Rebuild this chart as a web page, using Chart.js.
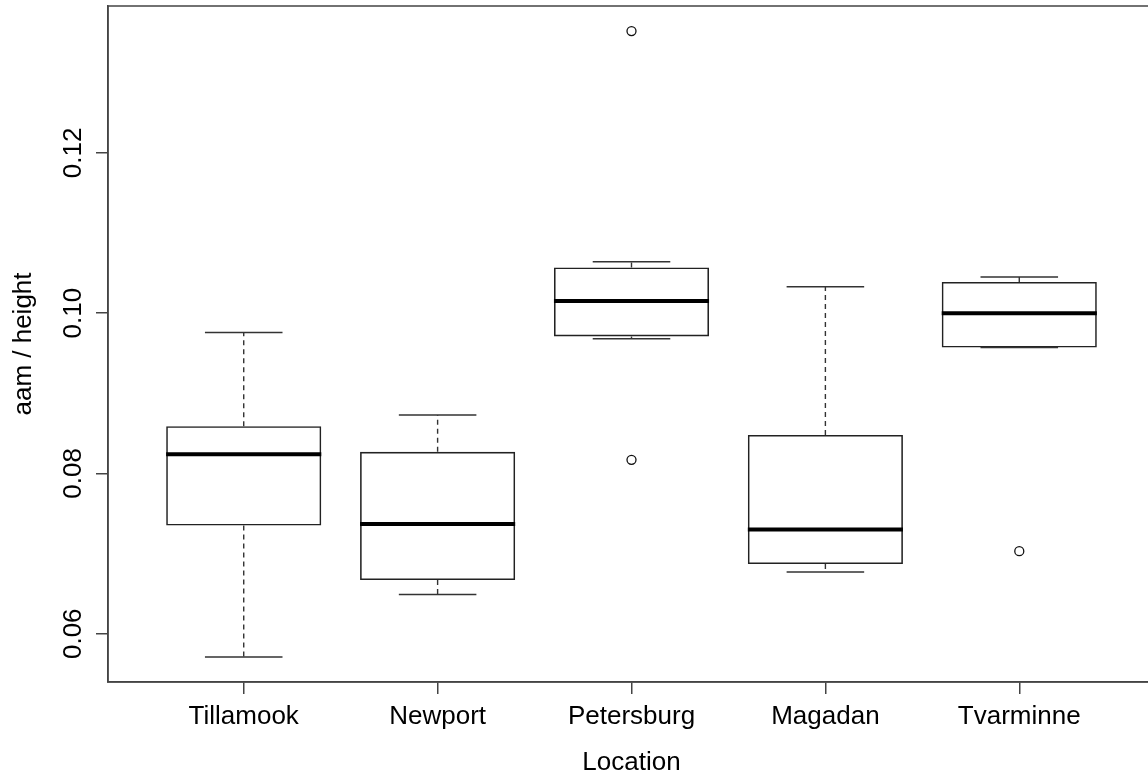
<!DOCTYPE html>
<html>
<head>
<meta charset="utf-8">
<title>aam / height by Location</title>
<script src="https://cdn.jsdelivr.net/npm/chart.js@4.4.1/dist/chart.umd.min.js"></script>
<style>
  html, body { margin: 0; padding: 0; background: #ffffff; overflow: hidden; }
  canvas { display: block; }
</style>
</head>
<body>
<canvas id="chart" width="1170" height="778"></canvas>
<script>
// Box-plot summary per location
const locations   = ['Tillamook', 'Newport', 'Petersburg', 'Magadan', 'Tvarminne'];
const whiskerLow  = [0.0571, 0.0649, 0.0968, 0.0677, 0.0957];
const quartile1   = [0.0735, 0.0667, 0.0971, 0.0687, 0.0957];
const medians     = [0.0824, 0.0737, 0.1015, 0.0730, 0.1000];
const quartile3   = [0.0859, 0.0827, 0.1057, 0.0848, 0.1039];
const whiskerHigh = [0.0976, 0.0873, 0.1064, 0.1033, 0.1045];

// Points beyond the whiskers (index into locations, value)
const outlierGroup  = [2, 2, 4];
const outlierValues = [0.1352, 0.0817, 0.0703];

// Value axis ticks
const yTickValues = [0.06, 0.08, 0.10, 0.12];
const yTickLabels = ['0.06', '0.08', '0.10', '0.12'];

const FONT = '"Liberation Sans", Arial, Helvetica, sans-serif';
const INK = '#000000';
const AXIS = '#444444';

// Axis ranges padded by 4% like a classic boxplot
const allValues = whiskerLow.concat(whiskerHigh, outlierValues);
const dataMin = Math.min(...allValues);
const dataMax = Math.max(...allValues);
const pad = (dataMax - dataMin) * 0.04;
const yMin = dataMin - pad;
const yMax = dataMax + pad;
const xMin = 0.5 - locations.length * 0.04;
const xMax = locations.length + 0.5 + locations.length * 0.04;

// Turn [x0, y0, x1, y1] pieces into one broken polyline
function segments(pieces) {
  const pts = [];
  pieces.forEach(([x0, y0, x1, y1]) => {
    pts.push({ x: x0, y: y0 }, { x: x1, y: y1 }, { x: x1, y: null });
  });
  return pts;
}

const boxes = locations.map((_, i) => ({ x: i + 1, y: [quartile1[i], quartile3[i]] }));

const whiskerLines = segments(locations.flatMap((_, i) => [
  [i + 1, quartile3[i], i + 1, whiskerHigh[i]],
  [i + 1, quartile1[i], i + 1, whiskerLow[i]]
]));

const capLines = segments(locations.flatMap((_, i) => [
  [i + 0.8, whiskerHigh[i], i + 1.2, whiskerHigh[i]],
  [i + 0.8, whiskerLow[i], i + 1.2, whiskerLow[i]]
]));

const medianLines = segments(locations.map((_, i) => [i + 0.6, medians[i], i + 1.4, medians[i]]));

const outlierPoints = outlierValues.map((v, k) => ({ x: outlierGroup[k] + 1, y: v }));

// Closed frame around the plotting region
const framePlugin = {
  id: 'frame',
  afterDatasetsDraw(chart) {
    const { ctx, chartArea: a } = chart;
    ctx.save();
    ctx.strokeStyle = AXIS;
    ctx.lineWidth = 1.5;
    ctx.strokeRect(a.left, a.top, a.right - a.left, a.bottom - a.top);
    ctx.restore();
  }
};

// Value-axis labels written parallel to the axis
const yLabelPlugin = {
  id: 'yLabels',
  afterDraw(chart) {
    const { ctx } = chart;
    const ys = chart.scales.y;
    const baselineX = ys.right - 12 - 15;
    ctx.save();
    ctx.font = '26px ' + FONT;
    ctx.fillStyle = INK;
    ctx.textAlign = 'center';
    ctx.textBaseline = 'alphabetic';
    yTickValues.forEach((v, i) => {
      const py = ys.getPixelForValue(v);
      ctx.save();
      ctx.translate(baselineX, py);
      ctx.rotate(-Math.PI / 2);
      ctx.fillText(yTickLabels[i], 0, 0);
      ctx.restore();
    });
    ctx.restore();
  }
};

new Chart(document.getElementById('chart').getContext('2d'), {
  type: 'scatter',
  data: {
    datasets: [
      {
        type: 'bar',
        data: boxes,
        backgroundColor: 'rgba(0,0,0,0)',
        borderColor: '#222222',
        borderWidth: 1.6,
        borderSkipped: false,
        categoryPercentage: 1,
        barPercentage: 0.8,
        grouped: false,
        inflateAmount: 0,
        order: 5
      },
      {
        type: 'line',
        data: whiskerLines,
        borderColor: '#333333',
        borderWidth: 1.4,
        borderDash: [5, 4],
        pointRadius: 0,
        fill: false,
        spanGaps: false,
        order: 4
      },
      {
        type: 'line',
        data: capLines,
        borderColor: '#333333',
        borderWidth: 1.5,
        pointRadius: 0,
        fill: false,
        spanGaps: false,
        order: 3
      },
      {
        type: 'line',
        data: medianLines,
        borderColor: '#000000',
        borderWidth: 4,
        borderCapStyle: 'butt',
        pointRadius: 0,
        fill: false,
        spanGaps: false,
        order: 1
      },
      {
        type: 'scatter',
        data: outlierPoints,
        pointRadius: 4.5,
        pointBorderWidth: 1.3,
        pointBackgroundColor: '#ffffff',
        pointBorderColor: '#111111',
        order: 0
      }
    ]
  },
  options: {
    responsive: false,
    animation: false,
    devicePixelRatio: 1,
    layout: { padding: { left: 0, top: 6, right: 15, bottom: 0 } },
    plugins: {
      legend: { display: false },
      tooltip: { enabled: false }
    },
    scales: {
      x: {
        type: 'linear',
        min: xMin,
        max: xMax,
        offset: false,
        afterBuildTicks: (s) => { s.ticks = locations.map((_, i) => ({ value: i + 1 })); },
        afterFit: (s) => { s.height = 96; },
        ticks: {
          callback: (v, i) => locations[i],
          font: { family: FONT, size: 26, lineHeight: 1 },
          color: INK,
          padding: 10,
          autoSkip: false,
          maxRotation: 0,
          minRotation: 0
        },
        grid: {
          display: true,
          drawOnChartArea: false,
          drawTicks: true,
          tickLength: 12,
          color: AXIS,
          lineWidth: 1.5,
          offset: false
        },
        border: { display: true, color: AXIS, width: 1.5 },
        title: {
          display: true,
          text: 'Location',
          font: { family: FONT, size: 26, lineHeight: 1 },
          color: INK,
          padding: { top: 0, bottom: 2 }
        }
      },
      y: {
        type: 'linear',
        min: yMin,
        max: yMax,
        afterBuildTicks: (s) => { s.ticks = yTickValues.map((v) => ({ value: v })); },
        afterFit: (s) => { s.width = 108; },
        ticks: { display: false },
        grid: {
          display: true,
          drawOnChartArea: false,
          drawTicks: true,
          tickLength: 12,
          color: AXIS,
          lineWidth: 1.5
        },
        border: { display: true, color: AXIS, width: 1.5 },
        title: {
          display: true,
          text: 'aam / height',
          font: { family: FONT, size: 26, lineHeight: 1 },
          color: INK,
          padding: { top: 11, bottom: 0 }
        }
      }
    }
  },
  plugins: [framePlugin, yLabelPlugin]
});
</script>
</body>
</html>
